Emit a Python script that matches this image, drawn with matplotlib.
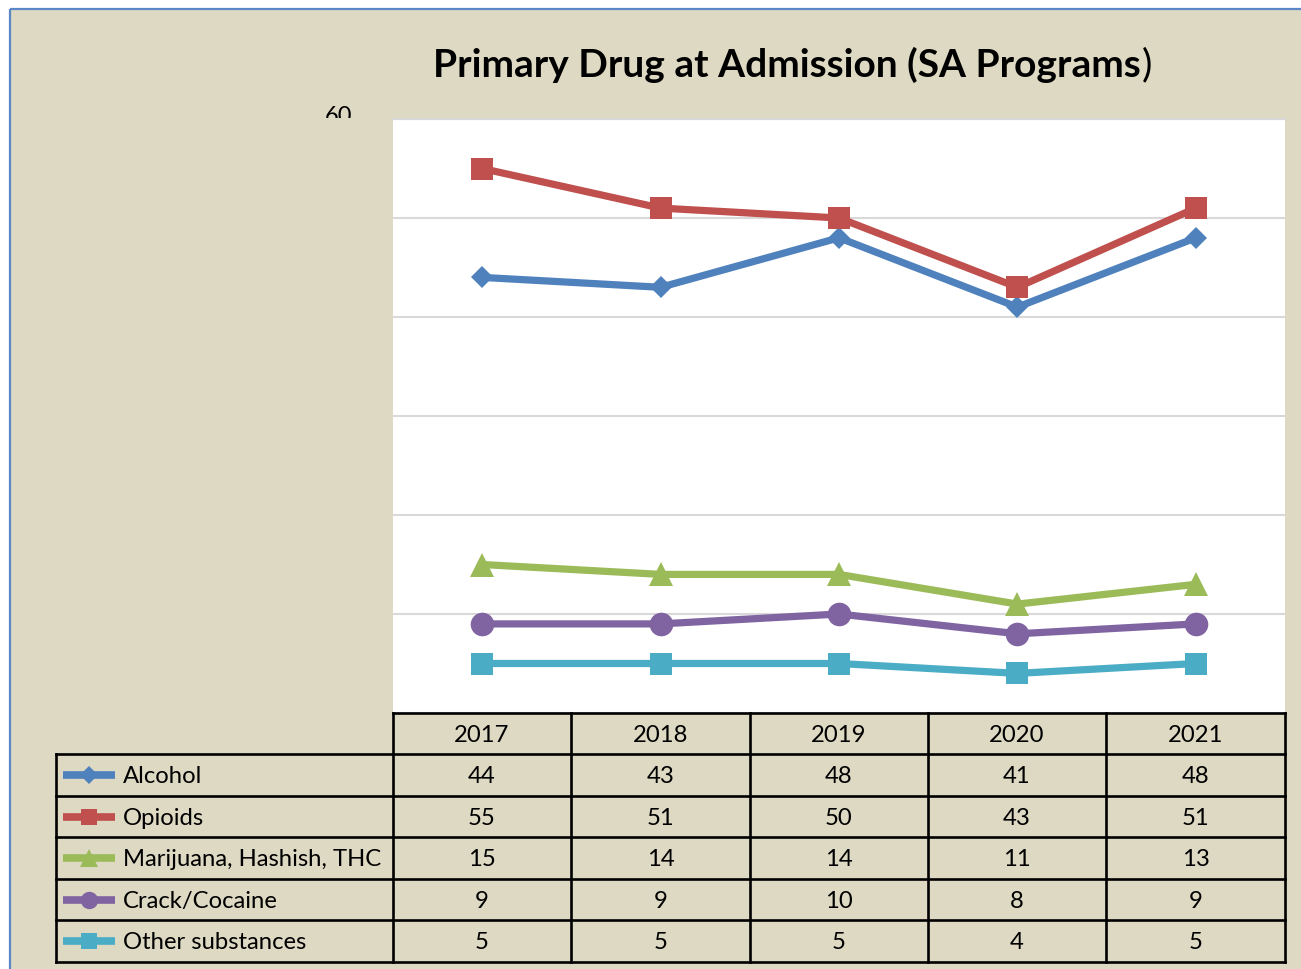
import matplotlib
matplotlib.use("Agg")
import matplotlib.pyplot as plt
from matplotlib.patches import Rectangle
from matplotlib.lines import Line2D

plt.rcParams['font.family'] = ['Lato', 'DejaVu Sans']

# ---- data ----
years = ["2017", "2018", "2019", "2020", "2021"]
series_names = ["Alcohol", "Opioids", "Marijuana, Hashish, THC", "Crack/Cocaine", "Other substances"]
alcohol = [44, 43, 48, 41, 48]
opioids = [55, 51, 50, 43, 51]
marijuana = [15, 14, 14, 11, 13]
cocaine = [9, 9, 10, 8, 9]
other = [5, 5, 5, 4, 5]
series_values = [alcohol, opioids, marijuana, cocaine, other]
y_ticks = [0, 10, 20, 30, 40, 50, 60]
title = "Primary Drug at Admission (SA Programs"

colors = ["#4F81BD", "#C0504D", "#9BBB59", "#8064A2", "#4BACC6"]
markers = ["D", "s", "^", "o", "s"]
msizes = [11.5, 16, 17, 17, 16]
leg_ms = [9, 12, 12.5, 12.5, 12]

W, H = 1301, 970
fig = plt.figure(figsize=(W / 100, H / 100), dpi=100)
fig.patch.set_facecolor("white")

# background overlay in pixel coords
bg = fig.add_axes([0, 0, 1, 1], zorder=0)
bg.set_xlim(0, W)
bg.set_ylim(H, 0)
bg.axis("off")
beige = "#DDD9C3"
bg.add_patch(Rectangle((10, 10), W - 10, H - 10, facecolor=beige, edgecolor="none", zorder=0))
bg.plot([10, 10], [H, 10], color="#5B87C9", lw=1.6, solid_capstyle="butt", zorder=5)
bg.plot([10, W], [10, 10], color="#5B87C9", lw=1.6, solid_capstyle="butt", zorder=5)

t1 = bg.text(433, 65, title, fontsize=28, fontweight="bold", ha="left", va="center")
fig.canvas.draw()
bb = t1.get_window_extent()
x_end = bg.transData.inverted().transform((bb.x1, bb.y0))[0]
bg.text(x_end + 1, 65, ")", fontsize=28, ha="left", va="center")

# partially hidden top tick label of the (covered) value axis
bg.text(338, 106, str(y_ticks[-1]), fontsize=17, ha="center", va="top", zorder=1)
bg.add_patch(Rectangle((11, 119), 393 - 11, 714 - 119, facecolor=beige, edgecolor="none", zorder=2))

# plot axes
L, R, T, B = 393, 1285, 120, 714
ax = fig.add_axes([L / W, 1 - B / H, (R - L) / W, (B - T) / H], zorder=1)
ax.set_facecolor("white")
x = list(range(len(years)))
ax.set_xlim(-0.5, len(years) - 0.5)
ax.set_ylim(y_ticks[0], y_ticks[-1])
ax.set_yticks(y_ticks)
ax.yaxis.grid(True, color="#D9D9D9", lw=1.5)
ax.set_axisbelow(True)
for s in ax.spines.values():
    s.set_visible(False)
ax.tick_params(left=False, bottom=False, labelleft=False, labelbottom=False)
ax.axhline(y_ticks[-1], color="#D9D9D9", lw=1.5, clip_on=False)

for vals, c, m, ms in zip(series_values, colors, markers, msizes):
    ax.plot(x, vals, color=c, lw=5.2, marker=m, markersize=ms,
            markeredgewidth=0, solid_capstyle="butt", zorder=3)

# table overlay
tb = fig.add_axes([0, 0, 1, 1], zorder=2)
tb.set_xlim(0, W)
tb.set_ylim(H, 0)
tb.axis("off")
tb.patch.set_alpha(0)

col_edges = [393, 571, 750, 928, 1106, 1285]
row_edges = [714, 755, 797, 838, 880, 921, 963]
lab_left = 56
lw_t = 1.9
kw = dict(color="black", lw=lw_t, solid_capstyle="projecting")
tb.plot([col_edges[0], col_edges[-1]], [row_edges[0]] * 2, **kw)
for yy in row_edges[1:]:
    tb.plot([lab_left, col_edges[-1]], [yy, yy], **kw)
tb.plot([lab_left, lab_left], [row_edges[1], row_edges[-1]], **kw)
for xx in col_edges:
    tb.plot([xx, xx], [row_edges[0], row_edges[-1]], **kw)

fs = 17.2
for j, yr in enumerate(years):
    cx = (col_edges[j] + col_edges[j + 1]) / 2
    tb.text(cx, (row_edges[0] + row_edges[1]) / 2 + 1, yr, fontsize=fs, ha="center", va="center")

for i, (name, vals, c, m, ms) in enumerate(zip(series_names, series_values, colors, markers, leg_ms)):
    cy = (row_edges[i + 1] + row_edges[i + 2]) / 2
    tb.add_line(Line2D([63, 115], [cy, cy], color=c, lw=5.5, solid_capstyle="butt"))
    tb.add_line(Line2D([89], [cy], color=c, marker=m, markersize=ms, markeredgewidth=0, lw=0))
    tb.text(123, cy + 1, name, fontsize=fs, ha="left", va="center")
    for j, v in enumerate(vals):
        cx = (col_edges[j] + col_edges[j + 1]) / 2
        tb.text(cx, cy + 1, str(v), fontsize=fs, ha="center", va="center")

fig.savefig("out.png", dpi=100, facecolor=fig.get_facecolor())
